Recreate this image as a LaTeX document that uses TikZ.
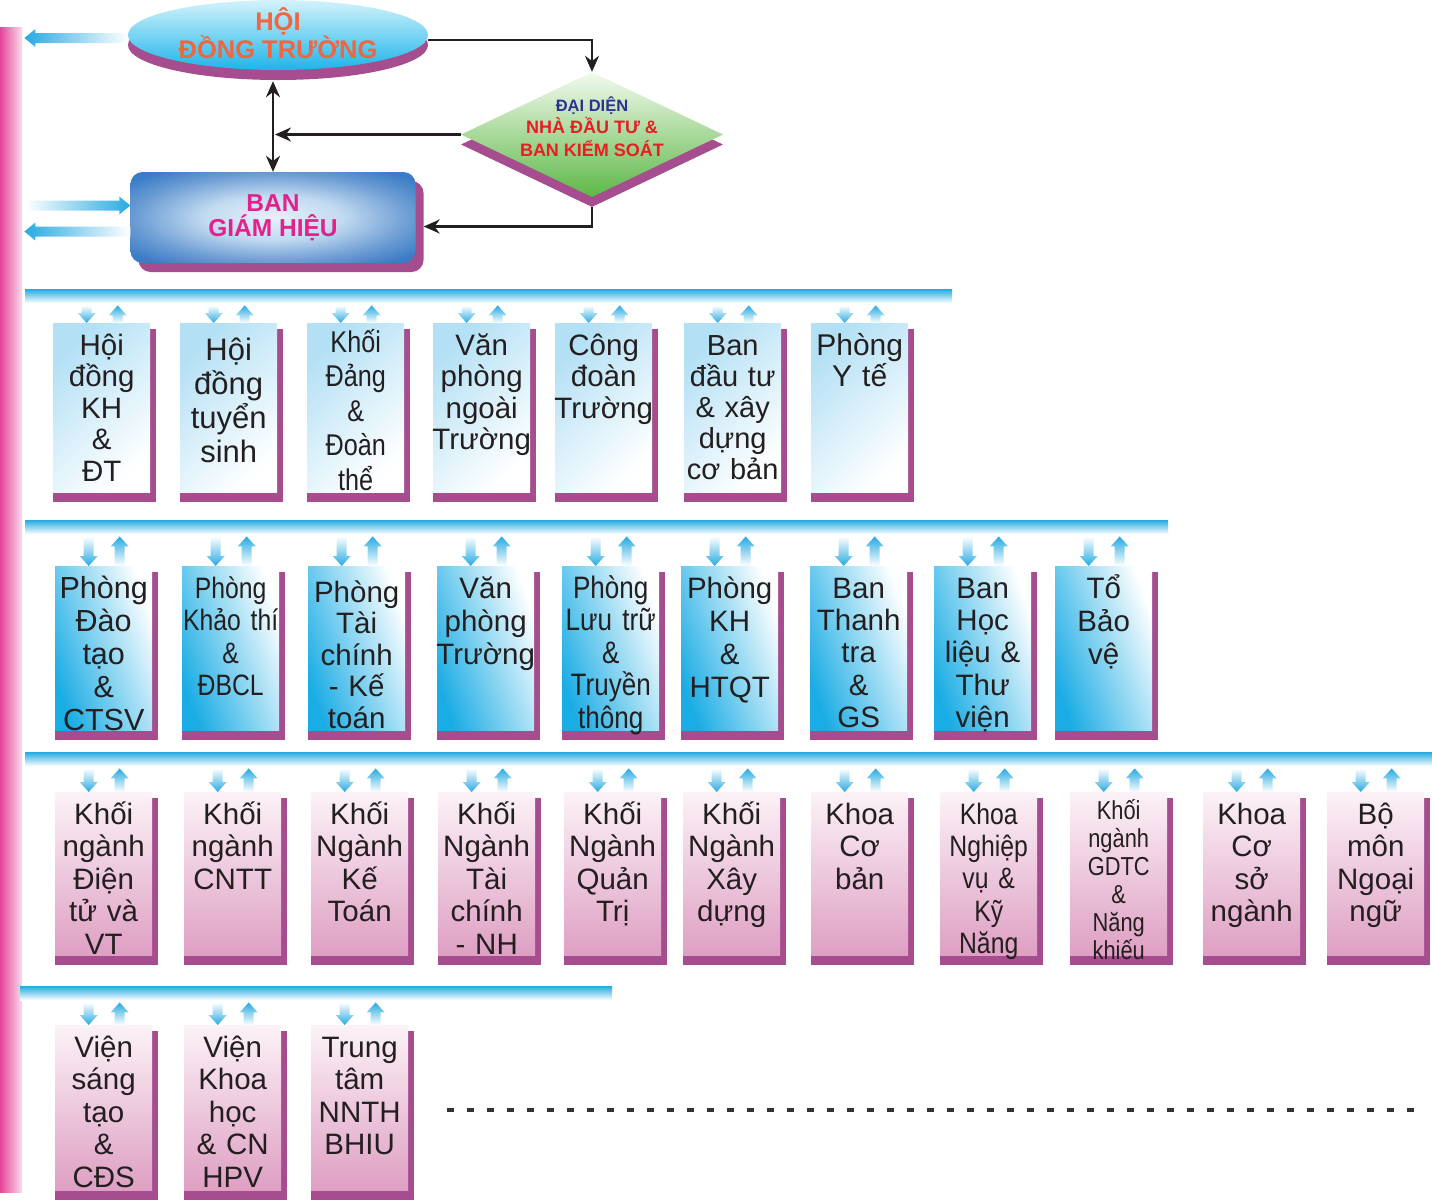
\documentclass[tikz,border=0pt]{standalone}
\usepackage{fontspec}
\setmainfont{Liberation Sans}
\newfontfamily\narrowfont[FakeStretch=0.84]{Liberation Sans}
\usetikzlibrary{shapes.geometric,shadows,arrows.meta,calc}
\pgfdeclarelayer{background}
\pgfsetlayers{background,main}

\definecolor{inkblack}{HTML}{231F20}
\definecolor{arrcyan}{HTML}{27AAE1}
\definecolor{shadowpurple}{HTML}{A54D8E}
\definecolor{sidepink}{HTML}{E5469A}
\definecolor{paleblue}{HTML}{B3E0F5}
\definecolor{deepcyan}{HTML}{1AACE4}
\definecolor{palepink}{HTML}{FCF2F7}
\definecolor{rosepink}{HTML}{DE9FC3}
\definecolor{hdtcyan}{HTML}{1EB4E9}
\definecolor{hdtlight}{HTML}{D4F3FC}
\definecolor{hdtred}{HTML}{EF6640}
\definecolor{bghblue}{HTML}{3B7CC6}
\definecolor{bghlight}{HTML}{E4F2FB}
\definecolor{bghpink}{HTML}{E3218C}
\definecolor{ddgreen}{HTML}{5DB847}
\definecolor{ddlight}{HTML}{F3FAEE}
\definecolor{ddnavy}{HTML}{2E3192}
\definecolor{ddred}{HTML}{E81E25}
\definecolor{dotgray}{HTML}{333333}

\pgfdeclareradialshading{bghshade}{\pgfpoint{0bp}{0bp}}{%
  color(0bp)=(bghlight); color(12bp)=(bghlight!80!bghblue);
  color(24bp)=(bghblue!75!white); color(32bp)=(bghblue); color(50bp)=(bghblue)}

% down and up arrow between a bar and a box
\newcommand\linkarrows[2]{%
  \shade[top color=white, bottom color=arrcyan] let \p1=(#1.north), \p2=(#2.south) in
    (\x1-15pt,\y1) -- (\x1-24pt,\y1+10pt) -- (\x1-20pt,\y1+10pt) -- (\x1-20pt,\y2-2pt)
    -- (\x1-10pt,\y2-2pt) -- (\x1-10pt,\y1+10pt) -- (\x1-6pt,\y1+10pt) -- cycle;
  \shade[top color=arrcyan, bottom color=white] let \p1=(#1.north), \p2=(#2.south) in
    (\x1+16pt,\y2-2pt) -- (\x1+25pt,\y2-12pt) -- (\x1+21pt,\y2-12pt) -- (\x1+21pt,\y1)
    -- (\x1+11pt,\y1) -- (\x1+11pt,\y2-12pt) -- (\x1+7pt,\y2-12pt) -- cycle;}
% big arrows at the side bar
\newcommand\toleft[2]{%
  \shade[left color=arrcyan, right color=white] let \p1=#1, \p2=#2 in
    (\x1+2pt,\y2) -- (\x1+13pt,\y2+9pt) -- (\x1+13pt,\y2+5pt) -- (\x2,\y2+5pt)
    -- (\x2,\y2-5pt) -- (\x1+13pt,\y2-5pt) -- (\x1+13pt,\y2-9pt) -- cycle;}
\newcommand\toright[2]{%
  \shade[left color=white, right color=arrcyan] let \p1=#1, \p2=#2 in
    (\x2,\y2) -- (\x2-11pt,\y2+9pt) -- (\x2-11pt,\y2+5pt) -- (\x1+3pt,\y2+5pt)
    -- (\x1+3pt,\y2-5pt) -- (\x2-11pt,\y2-5pt) -- (\x2-11pt,\y2-9pt) -- cycle;}

\begin{document}
\begin{tikzpicture}[x=1pt, y=-1pt, >={Stealth[length=16pt,width=14pt]},
  link/.style={draw=inkblack, line width=2.6pt},
  bar/.style={rectangle, anchor=north west, inner sep=0pt, minimum height=14pt,
    top color=arrcyan, bottom color=white},
  unitbox/.style={rectangle, anchor=north west, inner xsep=-4pt, inner ysep=0pt,
    text width=105pt, align=center, text=inkblack, text height=32pt},
  roomA/.style={unitbox, left color=paleblue, right color=white, shading angle=45,
    text depth=137pt, font=\fontsize{29.5}{31.5}\selectfont},
  roomB/.style={unitbox, left color=deepcyan, right color=white, shading angle=110,
    text depth=132pt, font=\fontsize{29.5}{33}\selectfont},
  roomC/.style={unitbox, top color=palepink, bottom color=rosepink,
    text depth=131pt, font=\fontsize{29.5}{32.5}\selectfont},
  roomD/.style={roomC, text depth=133pt}]

\useasboundingbox (0,0) rectangle (1432,1200);

% side bar and row bars
\node[rectangle, anchor=north west, inner sep=0pt, minimum width=22pt, minimum height=1165pt,
  left color=sidepink, right color=sidepink!18!white] (lbar) at (0,27) {};
\node[bar, minimum width=927pt] (bar1) at (25,289) {};
\node[bar, minimum width=1143pt] (bar2) at (25,520) {};
\node[bar, minimum width=1407pt] (bar3) at (25,752) {};
\node[bar, minimum width=592pt] (bar4) at (20,986) {};

% top of the chart
\node[ellipse, minimum width=300pt, minimum height=70pt, inner sep=0pt,
  top color=hdtlight, bottom color=hdtcyan,
  general shadow={fill=shadowpurple, shadow yshift=-10pt}] (hdt) at (278,35) {};
\node[font=\bfseries\fontsize{25.5}{27}\selectfont, text=hdtred, align=center]
  (hdttext) at ([yshift=2pt]hdt.center) {HỘI\\ĐỒNG TRƯỜNG};

\node[diamond, minimum width=262pt, minimum height=125pt, inner sep=0pt,
  top color=ddlight, bottom color=ddgreen,
  general shadow={fill=shadowpurple, shadow yshift=-10pt}] (dd) at (592,134.5) {};
\node[font=\bfseries\fontsize{18}{22.5}\selectfont, text=ddred, align=center]
  (ddtext) at ([yshift=8pt]dd.center)
  {{\fontsize{16.5}{22.5}\selectfont\color{ddnavy}ĐẠI DIỆN}\\NHÀ ĐẦU TƯ \&\\BAN KIỂM SOÁT};

\node[rectangle, rounded corners=12pt, minimum width=285pt, minimum height=91pt,
  shading=bghshade,
  general shadow={fill=shadowpurple, shadow xshift=8pt, shadow yshift=-9pt}] (bgh) at (273,217.5) {};
\node[font=\bfseries\fontsize{24.5}{25}\selectfont, text=bghpink, align=center]
  (bghtext) at (bgh.center) {BAN\\GIÁM HIỆU};

\draw[link,->] ([yshift=-5pt]hdt.east) -| (dd.north);
\draw[link,<->] ($(bgh.north |- hdt.south)+(0,11)$) -- (bgh.north);
\draw[link,->] (dd.west) -- ([xshift=2pt]dd.west -| bgh.north);
\draw[link,->] ([yshift=-10pt]dd.south) |- ([xshift=8pt,yshift=-9pt]bgh.east);

\toleft{(lbar.east)}{([yshift=-3pt]hdt.west)}
\toright{(lbar.east)}{([yshift=12pt]bgh.west)}
\toleft{(lbar.east)}{([yshift=-14pt]bgh.west)}

% row 1
\node[roomA] (a1) at (53,323) {Hội\\đồng\\KH\\\&\\ĐT};
\node[roomA, font=\fontsize{31}{34}\selectfont, text height=37pt, text depth=132pt] (a2) at (180,323) {Hội\\đồng\\tuyển\\sinh};
\node[roomA, font=\narrowfont\fontsize{30}{34.5}\selectfont, text height=29pt, text depth=140pt] (a3) at (307,323) {Khối\\Đảng\\\&\\Đoàn\\thể};
\node[roomA] (a4) at (433,323) {Văn\\phòng\\ngoài\\Trường};
\node[roomA] (a5) at (555,323) {Công\\đoàn\\Trường};
\node[roomA, font=\fontsize{29}{31}\selectfont] (a6) at (684,323) {Ban\\đầu~tư\\\&~xây\\dựng\\cơ~bản};
\node[roomA, font=\fontsize{30}{31.5}\selectfont] (a7) at (811,323) {Phòng\\Y~tế};

% row 2
\node[roomB, font=\fontsize{30.5}{33}\selectfont] (b1) at (55,566) {Phòng\\Đào\\tạo\\\&\\CTSV};
\node[roomB, font=\narrowfont\fontsize{29.5}{32.5}\selectfont] (b2) at (182,566) {Phòng\\Khảo~thí\\\&\\ĐBCL};
\node[roomB, font=\fontsize{29.5}{31.5}\selectfont, text height=36pt, text depth=128pt] (b3) at (308,566) {Phòng\\Tài\\chính\\-~Kế\\toán};
\node[roomB] (b4) at (437,566) {Văn\\phòng\\Trường};
\node[roomB, font=\narrowfont\fontsize{31}{32.5}\selectfont] (b5) at (562,566) {Phòng\\Lưu~trữ\\\&\\Truyền\\thông};
\node[roomB] (b6) at (681,566) {Phòng\\KH\\\&\\HTQT};
\node[roomB, font=\fontsize{29.5}{32.3}\selectfont] (b7) at (810,566) {Ban\\Thanh\\tra\\\&\\GS};
\node[roomB, font=\fontsize{29.5}{32.3}\selectfont] (b8) at (934,566) {Ban\\Học\\liệu~\&\\Thư\\viện};
\node[roomB] (b9) at (1055,566) {Tổ\\Bảo\\vệ};

% row 3
\node[roomC] (c1) at (55,792) {Khối\\ngành\\Điện\\tử~và\\VT};
\node[roomC] (c2) at (184,792) {Khối\\ngành\\CNTT};
\node[roomC] (c3) at (311,792) {Khối\\Ngành\\Kế\\Toán};
\node[roomC] (c4) at (438,792) {Khối\\Ngành\\Tài\\chính\\-~NH};
\node[roomC] (c5) at (564,792) {Khối\\Ngành\\Quản\\Trị};
\node[roomC] (c6) at (683,792) {Khối\\Ngành\\Xây\\dựng};
\node[roomC] (c7) at (811,792) {Khoa\\Cơ\\bản};
\node[roomC, font=\narrowfont\fontsize{29.5}{32.3}\selectfont] (c8) at (940,792) {Khoa\\Nghiệp\\vụ~\&\\Kỹ\\Năng};
\node[roomC, font=\narrowfont\fontsize{26}{28}\selectfont, text height=27pt, text depth=136pt] (c9) at (1070,792) {Khối\\ngành\\GDTC\\\&\\Năng\\khiếu};
\node[roomC] (c10) at (1203,792) {Khoa\\Cơ\\sở\\ngành};
\node[roomC] (c11) at (1327,792) {Bộ\\môn\\Ngoại\\ngữ};

% row 4
\node[roomD] (d1) at (55,1025) {Viện\\sáng\\tạo\\\&\\CĐS};
\node[roomD] (d2) at (184,1025) {Viện\\Khoa\\học\\\&~CN\\HPV};
\node[roomD] (d3) at (311,1025) {Trung\\tâm\\NNTH\\BHIU};
\draw[dotgray, line width=4.5pt, dash pattern=on 7pt off 13pt] (447,1110) -- (1420,1110);

% purple edges of the boxes
\begin{pgfonlayer}{background}
\foreach \r/\n in {a/7,b/9,c/11,d/3}
  \foreach \i in {1,...,\n}
    \fill[shadowpurple] ([yshift=-6pt]\r\i.north west) rectangle ([xshift=6pt,yshift=-10pt]\r\i.south east);
\end{pgfonlayer}

\foreach \i in {1,...,7} {\linkarrows{a\i}{bar1}}
\foreach \i in {1,...,9} {\linkarrows{b\i}{bar2}}
\foreach \i in {1,...,11} {\linkarrows{c\i}{bar3}}
\foreach \i in {1,...,3} {\linkarrows{d\i}{bar4}}
\end{tikzpicture}
\end{document}
